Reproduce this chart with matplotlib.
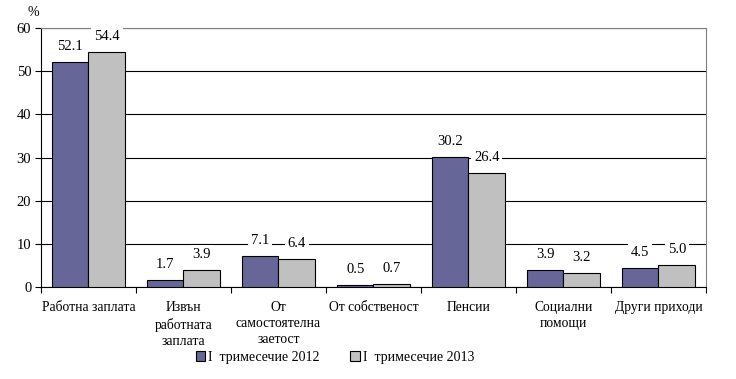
import matplotlib
matplotlib.use('Agg')
import matplotlib.pyplot as plt
import numpy as np

plt.rcParams['font.family'] = ['Liberation Serif', 'DejaVu Serif']

categories = ['Работна заплата', 'Извън\nработната\nзаплата', 'От\nсамостоятелна\nзаетост',
              'От собственост', 'Пенсии', 'Социални\nпомощи', 'Други приходи']
q1_2012 = [52.1, 1.7, 7.1, 0.5, 30.2, 3.9, 4.5]
q1_2013 = [54.4, 3.9, 6.4, 0.7, 26.4, 3.2, 5.0]
series_labels = ['I  тримесечие 2012', 'I  тримесечие 2013']

C_2012 = '#666699'
C_2013 = '#C0C0C0'

fig = plt.figure(figsize=(7.36, 3.79), dpi=100)
ax = fig.add_axes([0.0557, 0.2427, 0.9035, 0.6833])

x = np.arange(len(categories))
w = 0.385
b1 = ax.bar(x - w/2, q1_2012, w, color=C_2012, edgecolor='black', linewidth=0.8,
            label=series_labels[0], zorder=3)
b2 = ax.bar(x + w/2, q1_2013, w, color=C_2013, edgecolor='black', linewidth=0.8,
            label=series_labels[1], zorder=3)

# value labels with white boxes that cut the gridlines
for bars, vals in [(b1, q1_2012), (b2, q1_2013)]:
    for r, v in zip(bars, vals):
        ax.annotate(f'{v:.1f}', (r.get_x() + r.get_width()/2, v),
                    xytext=(0, 6.5), textcoords='offset points',
                    ha='center', va='bottom', fontsize=10.5, zorder=4,
                    bbox=dict(boxstyle='square,pad=0.2', facecolor='white',
                              edgecolor='none'))

ax.set_xlim(-0.5, len(categories) - 0.5)
ax.set_ylim(0, 60)
ax.set_yticks(range(0, 61, 10))
ax.yaxis.grid(True, color='black', linewidth=0.8, zorder=0)
ax.set_axisbelow(True)
# plot-area border on top/right in grey
for s in ['top', 'right']:
    ax.spines[s].set_color('#808080')
    ax.spines[s].set_linewidth(0.8)
ax.spines['left'].set_linewidth(0.8)
ax.spines['bottom'].set_linewidth(0.8)
ax.tick_params(axis='y', labelsize=10.5, length=4, width=0.8, direction='out', pad=3)

# category ticks sit between groups
ax.set_xticks(np.arange(-0.5, len(categories), 1.0))
ax.set_xticklabels([])
ax.tick_params(axis='x', length=4, width=0.8, direction='out')
for i, c in enumerate(categories):
    ax.text(i, -3.3, c, ha='center', va='top', fontsize=9.8,
            linespacing=1.3)

fig.text(33/736, 1 - 13/379, '%', ha='center', va='center', fontsize=10)

fig.legend(handles=[b1, b2], loc='center', bbox_to_anchor=(0.455, 0.058),
           ncol=2, frameon=False, fontsize=10, handlelength=0.7, handleheight=0.7,
           handletextpad=0.2, columnspacing=2.2)

fig.savefig('out.png', dpi=100, facecolor='white')
